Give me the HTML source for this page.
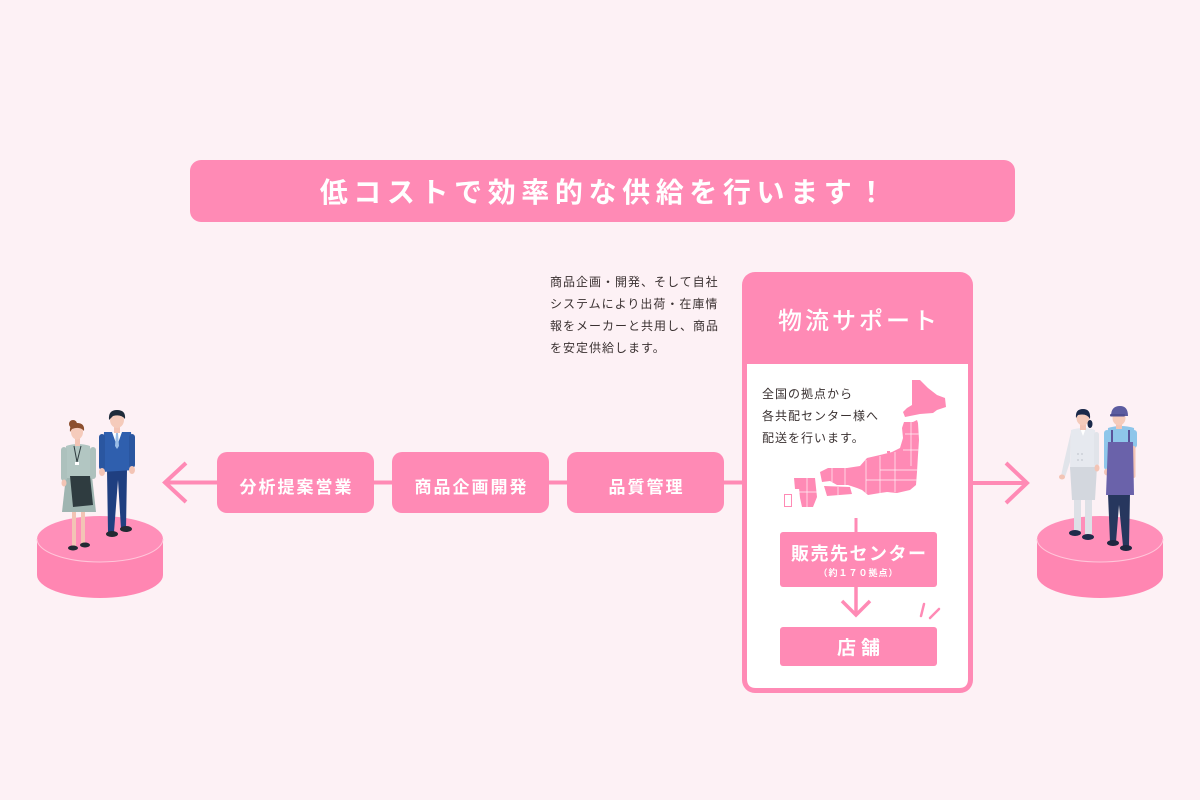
<!DOCTYPE html>
<html lang="ja">
<head>
<meta charset="utf-8">
<style>
html,body{margin:0;padding:0;}
body{width:1200px;height:800px;background:#fdf1f5;position:relative;overflow:hidden;font-family:"Liberation Sans","Noto Sans CJK JP",sans-serif;}
svg{position:absolute;left:0;top:0;}
.t{position:absolute;white-space:nowrap;}
.w{color:#fff;font-weight:700;}
.c{display:flex;align-items:center;justify-content:center;}
</style>
</head>
<body>
<svg width="1200" height="800" viewBox="0 0 1200 800">
  <defs>
    <clipPath id="mapclip">
      <path d="M912,380 L920,380 L928,388 L937,395 L945,398 L946,407 L937,410 L933,413 L920,414 L915,415 L905,417 L903,412 L907,408 L912,405 Z
               M904,422 L913,422 L917,420 L918,423 L919,440 L918,455 L917,472 L916,485 L910,490 L897,493 L887,492 L880,493 L868,495 L862,490 L857,488 L848,485 L837,485 L830,481 L822,482 L820,472 L828,468 L838,468 L847,468 L860,466 L867,458 L880,455 L892,452 L900,448 L903,438 L902,428 Z
               M798,478 L815,478 L817,497 L813,507 L802,507 L800,498 Z
               M794,478 L799,478 L800,489 L795,489 Z
               M824,486 L850,487 L852,494 L827,496 Z"/>
    </clipPath>
  </defs>

  <!-- Title bar -->
  <rect x="190" y="160" width="825" height="62" rx="11" fill="#ff8ab5"/>

  <!-- horizontal flow line -->
  <line x1="165" y1="482.5" x2="745" y2="482.5" stroke="#ff8ab5" stroke-width="4"/>
  <polyline points="186,463 165,482.5 186,502" fill="none" stroke="#ff8ab5" stroke-width="4"/>

  <!-- process boxes -->
  <rect x="217" y="452" width="157" height="61" rx="10" fill="#ff8ab5"/>
  <rect x="392" y="452" width="157" height="61" rx="10" fill="#ff8ab5"/>
  <rect x="567" y="452" width="157" height="61" rx="10" fill="#ff8ab5"/>

  <!-- right arrow -->
  <line x1="970" y1="483" x2="1027" y2="483" stroke="#ff8ab5" stroke-width="4"/>
  <polyline points="1006,463 1027,483 1006,503" fill="none" stroke="#ff8ab5" stroke-width="4"/>

  <!-- logistics box -->
  <rect x="742" y="272" width="231" height="421" rx="13" fill="#ff8ab5"/>
  <path d="M747,364 L968,364 L968,679 Q968,688 959,688 L756,688 Q747,688 747,679 Z" fill="#ffffff"/>

  <!-- Japan map -->
  <g clip-path="url(#mapclip)">
    <rect x="780" y="375" width="170" height="135" fill="#ff8ab5"/>
    <g stroke="#ffffff" stroke-width="0.7" fill="none" opacity="0.9">
      <path d="M905,434 L919,434 M903,450 L919,450 M911,422 L911,466"/>
      <path d="M895,452 L895,492 M880,456 L880,494 M866,460 L866,495"/>
      <path d="M880,470 L919,470 M866,480 L919,480"/>
      <path d="M845,468 L845,485 M832,468 L832,482"/>
      <path d="M807,478 L807,507 M798,492 L817,492"/>
      <path d="M838,487 L838,496"/>
    </g>
  </g>
  <rect x="784.5" y="494.5" width="7" height="12" fill="none" stroke="#ff8ab5" stroke-width="1"/>
  <rect x="887" y="451" width="3" height="2" fill="#ff8ab5"/>

  <!-- down arrows -->
  <line x1="856" y1="518" x2="856" y2="533" stroke="#ff8ab5" stroke-width="3"/>
  <rect x="780" y="532" width="157" height="55" rx="3" fill="#ff8ab5"/>
  <line x1="856" y1="587" x2="856" y2="615" stroke="#ff8ab5" stroke-width="3.5"/>
  <polyline points="842,601 856,615 870,601" fill="none" stroke="#ff8ab5" stroke-width="3.5"/>
  <rect x="780" y="627" width="157" height="39" rx="3" fill="#ff8ab5"/>
  <line x1="924" y1="604" x2="921" y2="616" stroke="#ff8ab5" stroke-width="2.5" stroke-linecap="round"/>
  <line x1="939" y1="609" x2="930" y2="618" stroke="#ff8ab5" stroke-width="2.5" stroke-linecap="round"/>

  <!-- left platform -->
  <path d="M37,539 L37,575 A63,23 0 0 0 163,575 L163,539 Z" fill="#ff86b2"/>
  <ellipse cx="100" cy="539" rx="63" ry="23" fill="#ff8fb9"/>
  <path d="M37,539 A63,23 0 0 0 163,539" fill="none" stroke="#ffc6da" stroke-width="1"/>

  <!-- right platform -->
  <path d="M1037,539 L1037,575 A63,23 0 0 0 1163,575 L1163,539 Z" fill="#ff86b2"/>
  <ellipse cx="1100" cy="539" rx="63" ry="23" fill="#ff8fb9"/>
  <path d="M1037,539 A63,23 0 0 0 1163,539" fill="none" stroke="#ffc6da" stroke-width="1"/>

  <!-- left man -->
  <g>
    <path d="M107,470 L127,470 L126,529 L121,529 L118,480 L114,532 L108,532 Z" fill="#1f3f80"/>
    <ellipse cx="112" cy="534" rx="6" ry="3" fill="#222a33"/>
    <ellipse cx="126" cy="529" rx="6" ry="3" fill="#222a33"/>
    <path d="M104,432 L131,432 L134,470 L102,472 Z" fill="#2f5fae"/>
    <rect x="99" y="434" width="6" height="36" rx="3" fill="#2a56a0"/>
    <rect x="129" y="434" width="6" height="34" rx="3" fill="#2a56a0"/>
    <ellipse cx="102" cy="472" rx="3" ry="4" fill="#f3c4b5"/>
    <ellipse cx="132" cy="470" rx="3" ry="4" fill="#f3c4b5"/>
    <path d="M112,432 L122,432 L117,446 Z" fill="#ffffff"/>
    <path d="M116,433 L118,433 L119,446 L117,449 L115,446 Z" fill="#9bbde6"/>
    <rect x="114" y="425" width="6" height="8" fill="#f3c4b5"/>
    <ellipse cx="117" cy="420" rx="7" ry="8" fill="#f5cbbb"/>
    <path d="M109,420 Q108,410 117,410 Q126,410 125,419 Q121,414 113,416 Z" fill="#1e2b3a"/>
  </g>

  <!-- left woman -->
  <g>
    <rect x="72" y="508" width="4" height="38" fill="#f3c4b5"/>
    <rect x="81" y="508" width="4" height="36" fill="#f3c4b5"/>
    <ellipse cx="73" cy="548" rx="5" ry="2.5" fill="#222a33"/>
    <ellipse cx="85" cy="545" rx="5" ry="2.5" fill="#222a33"/>
    <path d="M66,476 L92,476 L96,512 L62,512 Z" fill="#9fb5b1"/>
    <path d="M66,446 Q78,442 90,446 L92,478 L66,478 Z" fill="#b2c6c2"/>
    <rect x="61" y="447" width="6" height="34" rx="3" fill="#adc1bd"/>
    <rect x="90" y="447" width="6" height="32" rx="3" fill="#adc1bd"/>
    <ellipse cx="64" cy="483" rx="2.5" ry="3.5" fill="#f3c4b5"/>
    <path d="M70,476 L90,476 L93,505 L73,507 Z" fill="#2f3c40"/>
    <path d="M74,446 L77,462 L81,446" fill="none" stroke="#2f3c40" stroke-width="1"/>
    <rect x="75" y="462" width="4" height="3" fill="#ffffff"/>
    <rect x="75" y="438" width="5" height="8" fill="#f3c4b5"/>
    <ellipse cx="77" cy="432" rx="6" ry="7.5" fill="#f5cbbb"/>
    <path d="M70,432 Q69,423 77,423 Q85,423 84,431 Q80,426 72,429 Z" fill="#8c4f2e"/>
    <circle cx="73" cy="424" r="4" fill="#8c4f2e"/>
  </g>

  <!-- right woman chef -->
  <g>
    <rect x="1074" y="498" width="7" height="33" fill="#dde0e6"/>
    <rect x="1085" y="498" width="7" height="36" fill="#dde0e6"/>
    <ellipse cx="1075" cy="533" rx="6" ry="3" fill="#1e2b4a"/>
    <ellipse cx="1088" cy="537" rx="6" ry="3" fill="#1e2b4a"/>
    <path d="M1071,430 Q1083,426 1095,430 L1097,470 L1070,470 Z" fill="#e6e9ef"/>
    <path d="M1070,467 L1097,467 L1095,500 L1072,500 Z" fill="#d3d7de"/>
    <path d="M1071,432 L1064,462 L1061,476 L1065,477 L1070,462 Z" fill="#e1e4ea"/>
    <ellipse cx="1062" cy="477" rx="3" ry="2.5" fill="#f3c4b5"/>
    <rect x="1094" y="432" width="5" height="34" rx="2.5" fill="#e1e4ea"/>
    <ellipse cx="1097" cy="468" rx="2.5" ry="3.5" fill="#f3c4b5"/>
    <circle cx="1078" cy="454" r="0.9" fill="#c3c8d0"/><circle cx="1082" cy="454" r="0.9" fill="#c3c8d0"/>
    <circle cx="1078" cy="460" r="0.9" fill="#c3c8d0"/><circle cx="1082" cy="460" r="0.9" fill="#c3c8d0"/>
    <path d="M1080,428 L1086,428 L1083,436 Z" fill="#ffffff"/>
    <rect x="1080" y="422" width="6" height="8" fill="#f3c4b5"/>
    <ellipse cx="1083" cy="418" rx="6.5" ry="7.5" fill="#f5cbbb"/>
    <path d="M1076,418 Q1075,409 1083,409 Q1091,409 1090,419 Q1087,413 1078,415 Z" fill="#1b2a4a"/>
    <ellipse cx="1090" cy="424" rx="2.5" ry="4" fill="#1b2a4a"/>
  </g>

  <!-- right man with apron -->
  <g>
    <path d="M1108,494 L1130,494 L1129,546 L1123,546 L1119,505 L1116,542 L1110,542 Z" fill="#27375e"/>
    <ellipse cx="1113" cy="543" rx="6" ry="3" fill="#1e2740"/>
    <ellipse cx="1126" cy="548" rx="6" ry="3" fill="#1e2740"/>
    <path d="M1108,428 Q1121,424 1134,428 L1135,452 L1107,452 Z" fill="#8ec6ea"/>
    <rect x="1104" y="430" width="6" height="40" rx="3" fill="#8ec6ea"/>
    <rect x="1131" y="430" width="6" height="18" rx="3" fill="#8ec6ea"/>
    <rect x="1131.5" y="446" width="4" height="32" rx="2" fill="#f3c4b5"/>
    <ellipse cx="1107" cy="472" rx="3" ry="3.5" fill="#f3c4b5"/>
    <path d="M1108,442 L1133,442 L1134,495 L1106,495 Z" fill="#6a62aa"/>
    <path d="M1112,442 L1112,430 M1129,442 L1129,430" stroke="#5a539a" stroke-width="2"/>
    <rect x="1116" y="422" width="6" height="7" fill="#f3c4b5"/>
    <ellipse cx="1119" cy="418" rx="6.5" ry="7.5" fill="#f5cbbb"/>
    <path d="M1111,416 Q1111,406 1120,406 Q1128,406 1128,416 Z" fill="#5c5ca0"/>
    <rect x="1110" y="414" width="15" height="2.5" rx="1" fill="#4e4e90"/>
  </g>
</svg>

<!-- Title -->
<div class="t w c" style="left:190px;top:160px;width:825px;height:62px;font-size:28px;letter-spacing:5.6px;text-indent:5.6px;">低コストで効率的な供給を行います！</div>

<!-- Paragraph -->
<div class="t" style="left:550px;top:271px;font-size:12px;line-height:22px;letter-spacing:1px;color:#3a3131;">商品企画・開発、そして自社<br>システムにより出荷・在庫情<br>報をメーカーと共用し、商品<br>を安定供給します。</div>

<!-- Process box labels -->
<div class="t w c" style="left:217px;top:455px;width:157px;height:61px;font-size:17px;letter-spacing:2px;text-indent:2px;">分析提案営業</div>
<div class="t w c" style="left:392px;top:455px;width:157px;height:61px;font-size:17px;letter-spacing:2px;text-indent:2px;">商品企画開発</div>
<div class="t w c" style="left:567px;top:455px;width:157px;height:61px;font-size:17px;letter-spacing:2px;text-indent:2px;">品質管理</div>

<!-- Logistics header -->
<div class="t w c" style="left:742px;top:295px;width:231px;height:46px;font-size:24px;letter-spacing:3px;text-indent:3px;font-weight:500;">物流サポート</div>

<!-- logistics inner text -->
<div class="t" style="left:762px;top:383px;font-size:12px;line-height:22px;letter-spacing:1px;color:#3a3131;">全国の拠点から<br>各共配センター様へ<br>配送を行います。</div>

<!-- Sales center -->
<div class="t w c" style="left:780px;top:541px;width:157px;height:24px;font-size:18px;letter-spacing:1.5px;text-indent:1.5px;">販売先センター</div>
<div class="t w c" style="left:780px;top:566px;width:157px;height:12px;font-size:9px;letter-spacing:1px;">（約１７０拠点）</div>

<!-- Store -->
<div class="t w c" style="left:780px;top:627px;width:157px;height:39px;font-size:19px;letter-spacing:5px;text-indent:5px;">店舗</div>
</body>
</html>
